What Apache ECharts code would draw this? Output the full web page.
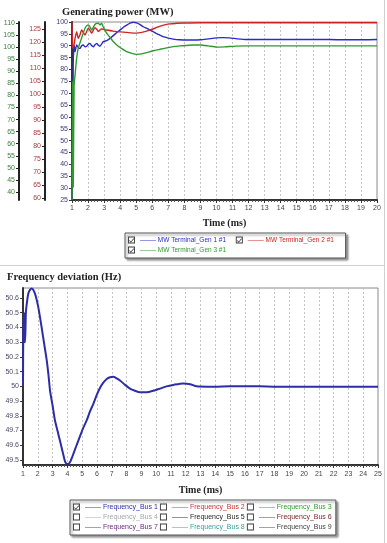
<!DOCTYPE html>
<html lang="en">
<head>
<meta charset="utf-8" />
<title>Generating power and frequency deviation</title>
<script src="https://cdn.jsdelivr.net/npm/echarts@6.0.0/dist/echarts.min.js"></script>
<style>
  html, body { margin: 0; padding: 0; background: #fff; }
  #main { width: 387px; height: 543px; }
</style>
</head>
<body>
<div id="main"></div>
<script>
// ---- data ----
var genNames = ["MW Terminal_Gen 1 #1", "MW Terminal_Gen 2 #1", "MW Terminal_Gen 3 #1"];
var genColors = ["#2a2acb", "#cf2424", "#2e9a2e"];

// Gen 1 (left inner axis, 25..100)
var genTime1 = [1, 1.08, 1.14, 1.19, 1.29, 1.4, 1.5, 1.6, 1.7, 1.81, 1.92, 2.02, 2.12, 2.23, 2.33, 2.43, 2.54, 2.64, 2.74, 2.85, 2.95, 3.16, 3.37, 3.68, 3.99, 4.2, 4.41, 4.62, 4.82, 5.03, 5.24, 5.44, 5.75, 6.05, 6.36, 6.67, 7.0, 7.3, 7.7, 8.15, 8.6, 9.0, 9.5, 10.0, 10.4, 10.8, 11.3, 11.9, 13, 14, 15, 16, 17, 18, 19, 20];
var genMW1 = [25, 84, 90, 87.5, 90.3, 89.2, 88.9, 90, 90.3, 89.6, 89.8, 90.6, 91.0, 90.0, 89.6, 90.4, 91.0, 90.2, 89.8, 90.8, 91.7, 92.2, 93.1, 94.9, 96.6, 97.8, 98.7, 99.5, 99.9, 99.6, 98.9, 98.0, 97.0, 95.9, 94.8, 93.8, 93.2, 92.8, 92.5, 92.4, 92.4, 92.5, 92.9, 93.3, 93.4, 93.3, 92.9, 92.6, 92.6, 92.6, 92.6, 92.6, 92.6, 92.5, 92.5, 92.6];

// Gen 2 (red axis)
var genTime2 = [1, 1.04, 1.08, 1.19, 1.29, 1.39, 1.5, 1.6, 1.71, 1.81, 1.92, 2.02, 2.12, 2.23, 2.33, 2.43, 2.54, 2.64, 2.74, 2.85, 3.0, 3.16, 3.57, 4.0, 4.41, 4.7, 5.03, 5.35, 5.65, 6.0, 6.28, 6.6, 6.9, 7.2, 7.52, 8, 9, 10, 12, 14, 16, 18, 20];
var genMW2 = [127.5, 118, 117.6, 121.4, 124.0, 121.4, 122.8, 124.6, 123.6, 122.7, 124.2, 125.3, 124.5, 123.4, 124.6, 125.5, 124.9, 124.0, 124.6, 125.0, 124.8, 124.6, 124.2, 123.9, 123.7, 123.5, 123.4, 123.7, 124.2, 124.9, 125.6, 126.3, 126.8, 127.0, 127.2, 127.3, 127.4, 127.4, 127.4, 127.4, 127.4, 127.4, 127.4];

// Gen 3 (green axis)
var genTime3 = [1, 1.04, 1.08, 1.13, 1.19, 1.29, 1.39, 1.5, 1.6, 1.71, 1.81, 1.92, 2.02, 2.12, 2.23, 2.33, 2.43, 2.54, 2.64, 2.74, 2.85, 2.95, 3.16, 3.37, 3.58, 3.79, 4.1, 4.41, 4.72, 5.03, 5.34, 5.65, 6.06, 6.48, 6.9, 7.31, 7.73, 8.15, 8.6, 9.0, 9.5, 10.0, 10.5, 11.2, 11.9, 13, 14, 16, 18, 20];
var genMW3 = [36.7, 86, 42, 84, 88.5, 95.5, 99.6, 101.8, 103.8, 106, 107.8, 108.9, 109.2, 108.3, 107.1, 108.3, 109.4, 109.8, 109.9, 109.2, 109.9, 108.3, 105.8, 104.0, 102.2, 100.9, 99.4, 98.1, 97.4, 97.0, 97.2, 97.7, 98.5, 99.1, 99.7, 100.2, 100.5, 100.7, 100.9, 100.9, 100.5, 100.0, 100.1, 100.4, 100.5, 100.5, 100.5, 100.5, 100.5, 100.5];

var redTicks = [60, 65, 70, 75, 80, 85, 90, 95, 100, 105, 110, 115, 120, 125];
var greenTicks = [40, 45, 50, 55, 60, 65, 70, 75, 80, 85, 90, 95, 100, 105, 110];

// Frequency
var busNames = ["Frequency_Bus 1", "Frequency_Bus 2", "Frequency_Bus 3", "Frequency_Bus 4", "Frequency_Bus 5", "Frequency_Bus 6", "Frequency_Bus 7", "Frequency_Bus 8", "Frequency_Bus 9"];
var busColors = ["#2d2da8", "#cc3333", "#339933", "#a8a8a8", "#1e1e1e", "#7a2a2a", "#6a2a7a", "#3a9e9e", "#444444"];
var busChecked = [true, false, false, false, false, false, false, false, false];
var busTime = [1, 1.02, 1.07, 1.11, 1.14, 1.2, 1.28, 1.36, 1.47, 1.59, 1.7, 1.81, 1.92, 2.03, 2.15, 2.26, 2.43, 2.6, 2.72, 2.83, 3.0, 3.16, 3.33, 3.5, 3.67, 3.84, 3.95, 4.06, 4.2, 4.4, 4.62, 4.85, 5.08, 5.31, 5.53, 5.75, 5.98, 6.21, 6.43, 6.66, 6.88, 7.1, 7.33, 7.56, 7.9, 8.23, 8.57, 8.91, 9.36, 9.8, 10.26, 10.7, 11.16, 11.84, 12.3, 12.74, 13.5, 14, 15, 16, 17, 18, 19, 20, 21, 22, 23, 24, 25];
var busFreq1 = [50.0, 50.37, 50.50, 50.32, 50.30, 50.51, 50.58, 50.63, 50.655, 50.665, 50.655, 50.63, 50.59, 50.54, 50.47, 50.40, 50.29, 50.18, 50.08, 49.97, 49.87, 49.77, 49.70, 49.63, 49.56, 49.49, 49.475, 49.472, 49.49, 49.54, 49.60, 49.66, 49.72, 49.77, 49.83, 49.88, 49.94, 49.99, 50.025, 50.05, 50.062, 50.065, 50.055, 50.04, 50.01, 49.985, 49.97, 49.96, 49.96, 49.97, 49.985, 50.0, 50.01, 50.02, 50.015, 50.0, 49.998, 49.998, 50.0, 50.0, 50.0, 49.998, 49.998, 49.998, 49.998, 49.998, 49.998, 49.998, 49.998];
var freqTicks = [49.5, 49.6, 49.7, 49.8, 49.9, 50, 50.1, 50.2, 50.3, 50.4, 50.5, 50.6];

function zip(xs, ys) {
  return xs.map(function (x, i) { return [x, ys[i]]; });
}

var CHECKED = "path://M0,0H10V10H0Z M1.3,1.3V8.7H8.7V1.3Z M2.2,5.2L4.2,7.2L7.9,2.6L8.6,3.5L4.2,8.6L1.5,6Z";
var UNCHECKED = "path://M0,0H10V10H0Z M1.3,1.3V8.7H8.7V1.3Z";

var serif = "Liberation Serif";
var sans = "Liberation Sans";

var chart = echarts.init(document.getElementById("main"));

var series = [];
genNames.forEach(function (n, i) {
  var d = [genTime1, genTime2, genTime3][i];
  var v = [genMW1, genMW2, genMW3][i];
  series.push({
    name: n, type: "line", xAxisIndex: 0, yAxisIndex: i,
    data: zip(d, v), showSymbol: false, smooth: 0.2,
    lineStyle: { width: 1.4, color: genColors[i] }, itemStyle: { color: genColors[i] }
  });
});
busNames.forEach(function (n, i) {
  series.push({
    name: n, type: "line", xAxisIndex: 1, yAxisIndex: 3,
    data: i === 0 ? zip(busTime, busFreq1) : [],
    showSymbol: false, smooth: 0.25,
    lineStyle: { width: 2, color: busColors[i] }, itemStyle: { color: busColors[i] }
  });
});

function xAxisOf(grid, max, gap, margin) {
  return {
    gridIndex: grid, type: "value", min: 1, max: max, interval: 1,
    axisLine: { onZero: false, lineStyle: { color: "#333", width: 2 } },
    axisTick: { length: 3, lineStyle: { color: "#333" } },
    minorTick: { show: true, splitNumber: 5, length: 2, lineStyle: { color: "#555" } },
    axisLabel: { fontSize: 7, fontFamily: sans, color: "#444", margin: margin },
    splitLine: { show: true, lineStyle: { color: "#c4c4c4", type: [2, 2] } },
    name: "Time (ms)", nameLocation: "middle", nameGap: gap,
    nameTextStyle: { fontFamily: serif, fontWeight: "bold", fontSize: 10, color: "#222" }
  };
}

function sideAxis(min, max, offset, ticks, color) {
  return {
    gridIndex: 0, type: "value", min: min, max: max, position: "left", offset: offset,
    axisLine: { show: true, onZero: false, lineStyle: { color: "#222", width: 2 } },
    axisTick: { show: true, length: 3, customValues: ticks, lineStyle: { color: "#222" } },
    axisLabel: { fontSize: 7, fontFamily: sans, color: color, margin: 4, customValues: ticks },
    splitLine: { show: false }
  };
}

function legendOf(names, colors, checked, left, top, width, txWidth, fontSize) {
  return {
    left: left, top: top, width: width, orient: "horizontal",
    padding: [3, 4, 4, 3], itemGap: 2, itemWidth: 7, itemHeight: 7,
    borderColor: "#555", borderWidth: 1, backgroundColor: "#fff",
    shadowBlur: 2, shadowColor: "rgba(0,0,0,0.4)", shadowOffsetX: 2, shadowOffsetY: 2,
    selectedMode: false,
    textStyle: {
      fontSize: fontSize, fontFamily: sans, lineHeight: 8,
      rich: {
        ln: { fontSize: 8, fontFamily: sans, lineHeight: 8 },
        tx: { fontSize: fontSize, fontFamily: sans, lineHeight: 8, width: txWidth }
      }
    },
    formatter: function (name) { return "{ln|——} {tx|" + name + "}"; },
    data: names.map(function (n, i) {
      return {
        name: n, icon: checked[i] ? CHECKED : UNCHECKED,
        itemStyle: { color: "#3a3a3a", borderWidth: 0 },
        textStyle: { color: colors[i] }
      };
    })
  };
}

var option = {
  animation: false,
  backgroundColor: "#fff",
  title: [
    { text: "Generating power (MW)", left: 62, top: 7, padding: 0,
      textStyle: { fontFamily: serif, fontWeight: "bold", fontSize: 10.5, color: "#222" } },
    { text: "Frequency deviation (Hz)", left: 7, top: 272, padding: 0,
      textStyle: { fontFamily: serif, fontWeight: "bold", fontSize: 10.5, color: "#222" } }
  ],
  grid: [
    { left: 72, top: 22, width: 305, height: 178, show: true, borderColor: "#8a8a8a", borderWidth: 1 },
    { left: 23, top: 288, width: 355, height: 177, show: true, borderColor: "#8a8a8a", borderWidth: 1 }
  ],
  xAxis: [xAxisOf(0, 20, 18, 5), xAxisOf(1, 25, 20, 6)],
  yAxis: [
    {
      gridIndex: 0, type: "value", min: 25, max: 100, interval: 5, position: "left",
      axisLine: { show: true, onZero: false, lineStyle: { color: "#333", width: 2 } },
      axisTick: { show: true, length: 3, lineStyle: { color: "#333" } },
      axisLabel: { fontSize: 7, fontFamily: sans, color: "#3a3a78", margin: 4 },
      splitLine: { show: false }
    },
    sideAxis(59.2, 127.7, 27, redTicks, "#a83a3a"),
    sideAxis(36.7, 110.4, 53, greenTicks, "#3a7f3a"),
    {
      gridIndex: 1, type: "value", min: 49.466, max: 50.668,
      axisLine: { show: true, onZero: false, lineStyle: { color: "#333", width: 2 } },
      axisTick: { show: true, length: 3, customValues: freqTicks, lineStyle: { color: "#333" } },
      axisLabel: { fontSize: 7, fontFamily: sans, color: "#4a4a66", margin: 4, customValues: freqTicks },
      splitLine: { show: false }
    }
  ],
  legend: [
    legendOf(genNames, genColors, [true, true, true], 125, 233, 250, 76, 6.5),
    legendOf(busNames, busColors, busChecked, 70, 500, 300, 55, 7)
  ],
  graphic: [
    { type: "line", shape: { x1: 0, y1: 265.5, x2: 384, y2: 265.5 }, style: { stroke: "#cfcfcf", lineWidth: 1 } },
    { type: "line", shape: { x1: 384.5, y1: 0, x2: 384.5, y2: 543 }, style: { stroke: "#cfcfcf", lineWidth: 1 } }
  ],
  series: series
};

chart.setOption(option);
</script>
</body>
</html>
